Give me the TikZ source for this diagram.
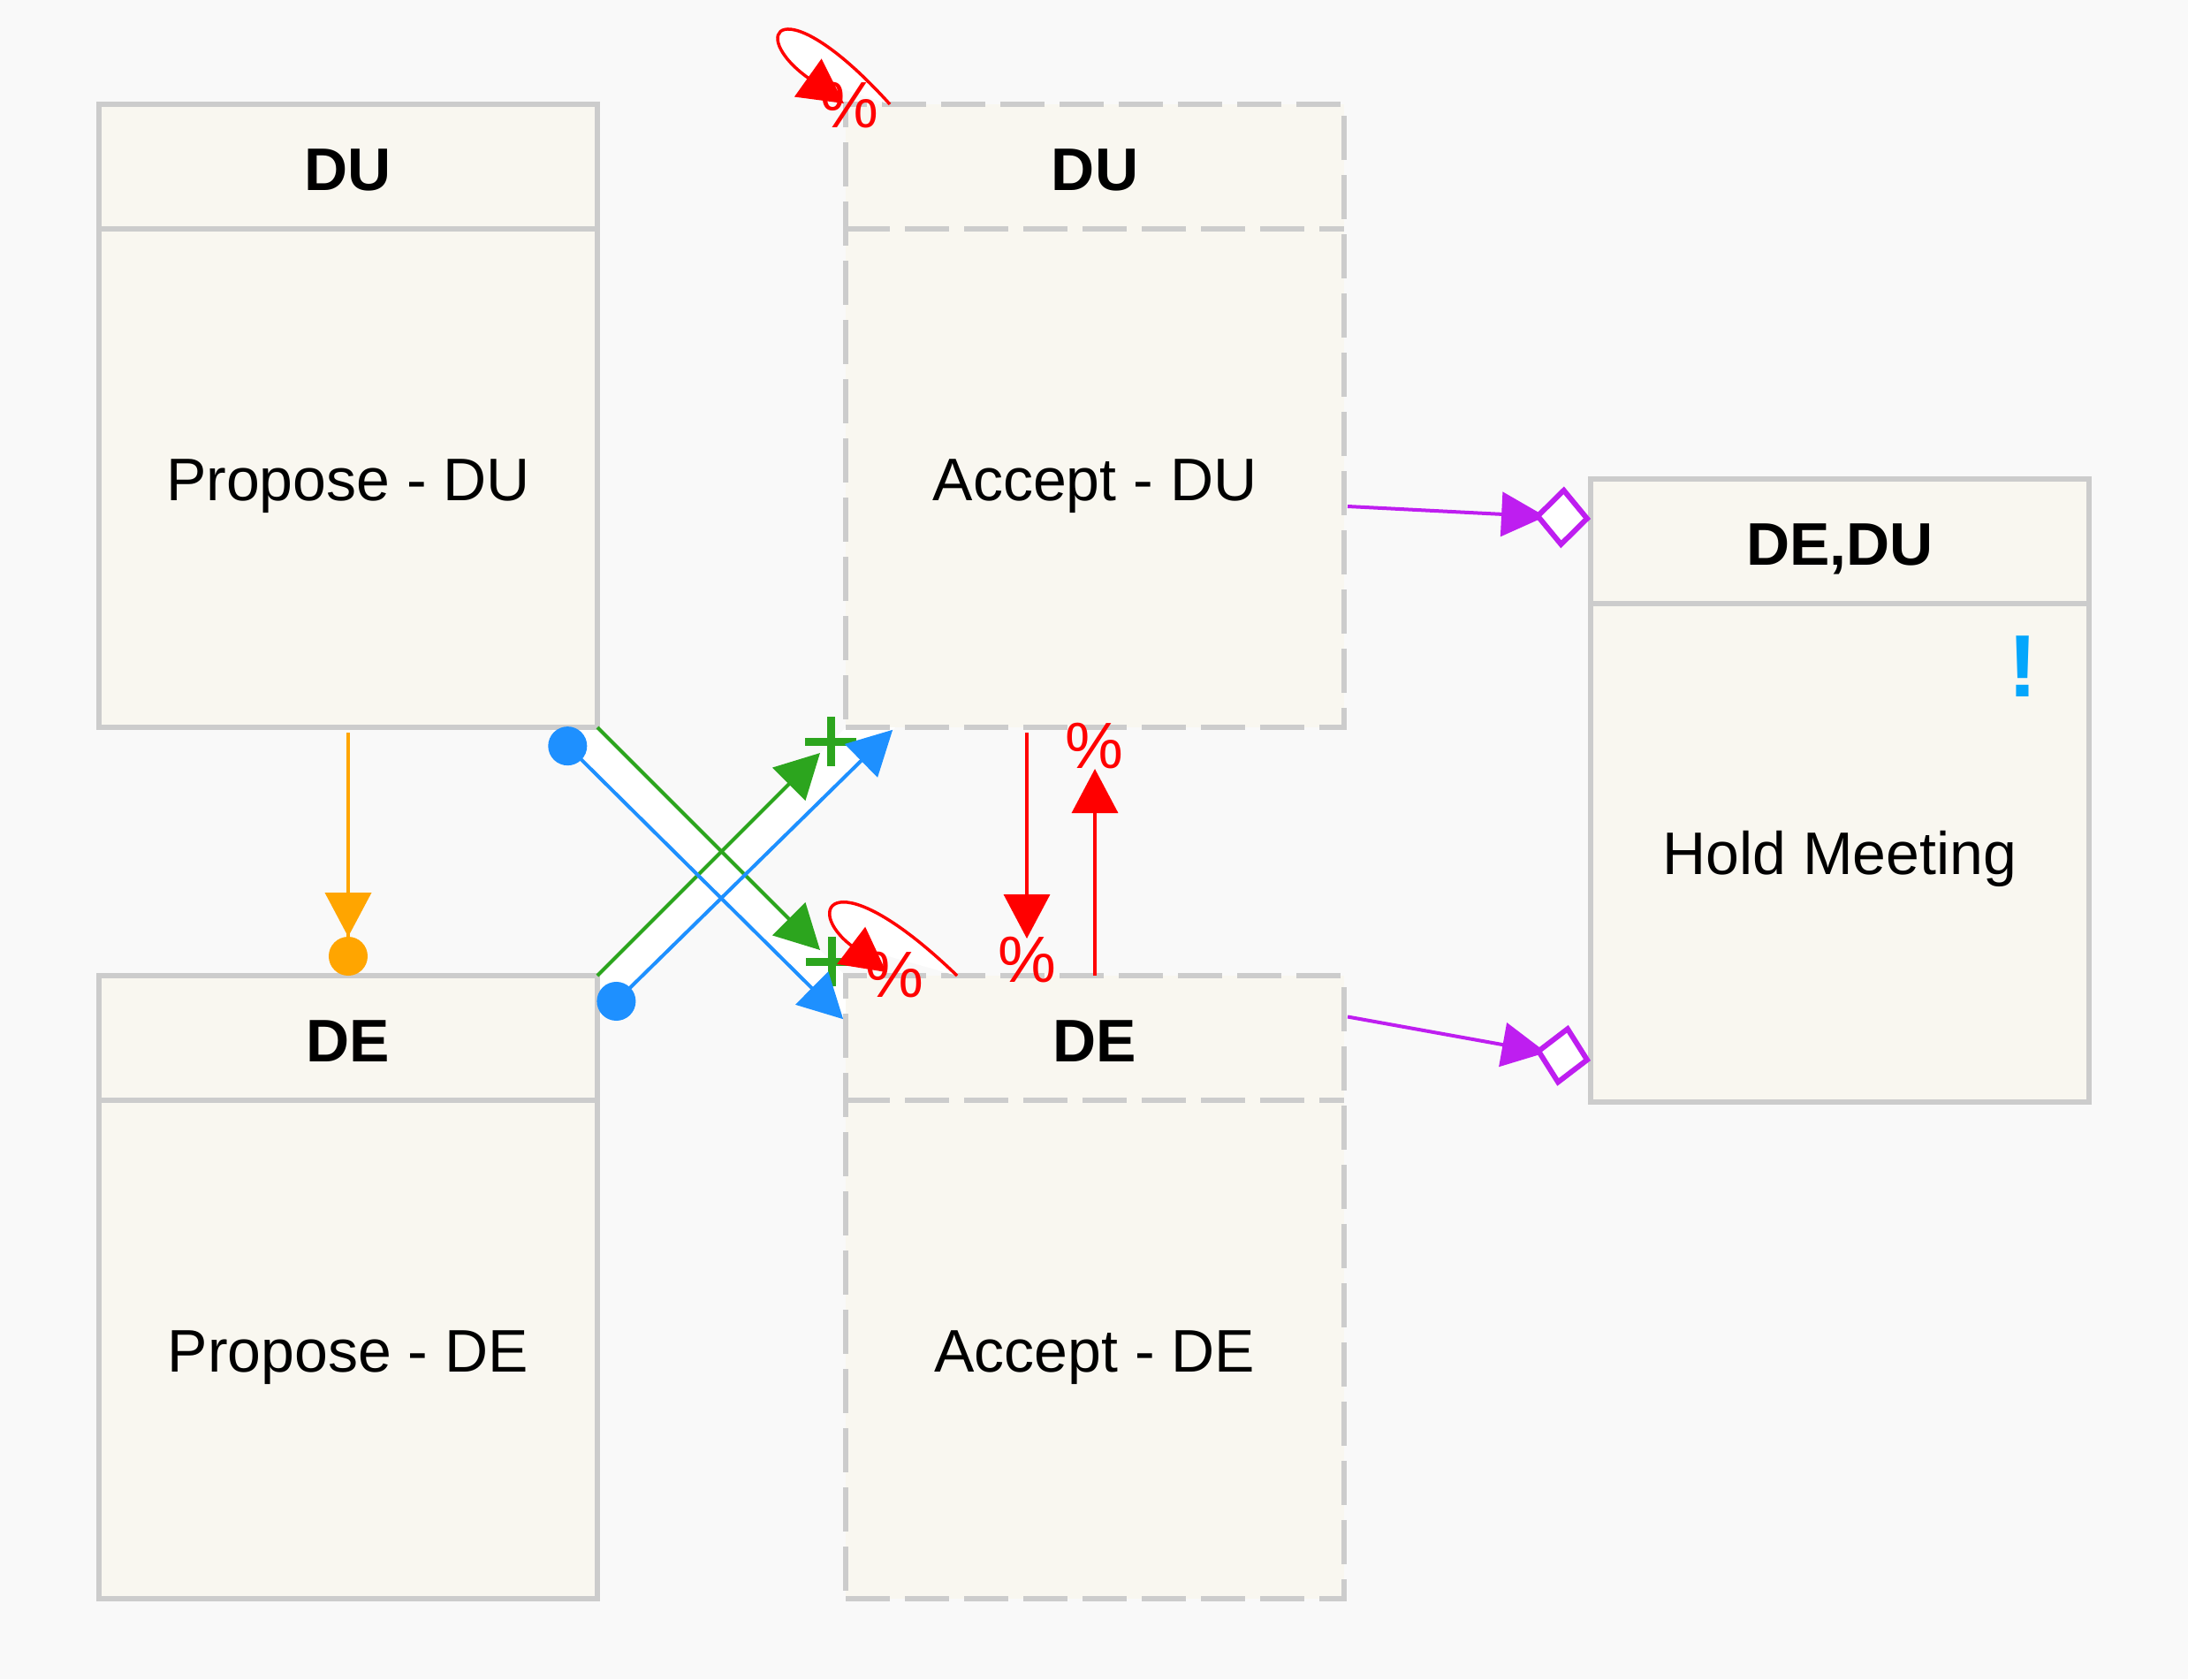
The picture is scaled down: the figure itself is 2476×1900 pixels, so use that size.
\documentclass[tikz,border=0pt]{standalone}
\usepackage{fontspec}
\setmainfont{Liberation Sans}
\usetikzlibrary{arrows.meta,calc}
\definecolor{bgc}{RGB}{249,249,249}
\definecolor{boxfill}{RGB}{249,247,240}
\definecolor{boxline}{RGB}{204,204,204}
\definecolor{cblue}{RGB}{30,144,255}
\definecolor{cgreen}{RGB}{44,165,30}
\definecolor{corange}{RGB}{255,165,0}
\definecolor{cred}{RGB}{255,0,0}
\definecolor{cpurple}{RGB}{190,30,240}
\definecolor{cexcl}{RGB}{4,166,252}
\tikzset{
  mytri/.tip={Triangle[length=25pt,width=26pt]},
  box/.style={draw=boxline, fill=boxfill, line width=2.75pt, minimum width=282pt,
    minimum height=352.5pt, outer sep=0pt, inner sep=0pt, anchor=north west},
  sepline/.style={draw=boxline, line width=2.75pt},
  hdrtext/.style={inner sep=0pt, text depth=0pt, font=\fontsize{34}{40}\selectfont\bfseries},
  bdytext/.style={inner sep=0pt, text depth=0pt, font=\fontsize{34}{40}\selectfont},
  dsh/.style={dash pattern=on 25pt off 8.5pt},
  pct/.style={text=cred, font=\fontsize{37}{40}\selectfont, inner sep=0pt},
  conn/.style={line width=2pt},
  redconn/.style={cred, line width=1.75pt},
  plusmark/.style={cgreen, line width=4.5pt},
  band/.style={fill=white, draw=none},
  purptip/.style={-{Triangle[length=25pt,width=25pt,sep=-6.5pt] Diamond[length=32pt,width=35pt,fill=white,line width=3pt]}}
}
\begin{document}
\begin{tikzpicture}[x=0.5pt,y=-0.5pt]
\useasboundingbox (0,0) rectangle (2476,1900);
\fill[bgc] (0,0) rectangle (2476,1900);

% white bands between parallel connectors
\fill[band] (676,823) -- (957,1104) -- (957,1156) -- (621,823) -- cycle;
\fill[band] (676,1104) -- (957,823) -- (1013,823) -- (676,1154) -- cycle;

% boxes
\node[box] (PDU) at (112,118) {};
\node[box,dsh] (ADU) at (957,118) {};
\node[box] (PDE) at (112,1104) {};
\node[box,dsh] (ADE) at (957,1104) {};
\node[box] (HM) at (1800,542) {};
\draw[sepline] ($(PDU.north west)+(0,141)$) -- ($(PDU.north east)+(0,141)$);
\draw[sepline,dsh] ($(ADU.north west)+(0,141)$) -- ($(ADU.north east)+(0,141)$);
\draw[sepline] ($(PDE.north west)+(0,141)$) -- ($(PDE.north east)+(0,141)$);
\draw[sepline,dsh] ($(ADE.north west)+(0,141)$) -- ($(ADE.north east)+(0,141)$);
\draw[sepline] ($(HM.north west)+(0,141)$) -- ($(HM.north east)+(0,141)$);

\node[hdrtext] (PDUt) at ($(PDU.north)+(0,74)$) {DU};
\node[bdytext] (PDUb) at ($(PDU.north)+(0,425)$) {Propose - DU};
\node[hdrtext] (ADUt) at ($(ADU.north)+(0,74)$) {DU};
\node[bdytext] (ADUb) at ($(ADU.north)+(0,425)$) {Accept - DU};
\node[hdrtext] (PDEt) at ($(PDE.north)+(0,74)$) {DE};
\node[bdytext] (PDEb) at ($(PDE.north)+(0,425)$) {Propose - DE};
\node[hdrtext] (ADEt) at ($(ADE.north)+(0,74)$) {DE};
\node[bdytext] (ADEb) at ($(ADE.north)+(0,425)$) {Accept - DE};
\node[hdrtext] (HMt) at ($(HM.north)+(0,74)$) {DE,DU};
\node[bdytext] (HMb) at ($(HM.north)+(0,423)$) {Hold Meeting};
\node[text=cexcl, font=\fontsize{50}{50}\selectfont\bfseries, inner sep=0pt] (excl) at (2289,754) {!};

% orange
\draw[corange, conn, -{Triangle[length=25pt,width=26pt] Circle[length=22pt]}, shorten <=3pt] (PDU.south) -- (PDE.north);

% green
\draw[cgreen, conn, -{mytri}, shorten >=20.5pt] (PDU.south east) -- (ADE.north west);
\coordinate (g1) at ($(ADE.north west)+(-16,-16)$);
\draw[plusmark] (g1) ++(-29,0) -- ++(58,0) (g1) ++(0,-28) -- ++(0,56);
\draw[cgreen, conn, -{mytri}, shorten >=20.5pt] (PDE.north east) -- (ADU.south west);
\coordinate (g2) at ($(ADU.south west)+(-17,16)$);
\draw[plusmark] (g2) ++(-29,0) -- ++(58,0) (g2) ++(0,-28) -- ++(0,56);

% blue
\coordinate (b1s) at ($(PDU.south east)+(-55,0)$);
\coordinate (b1e) at ($(ADE.north west)+(0,52)$);
\draw[cblue, conn, {Circle[length=22pt]}-{mytri}, shorten <=4pt, shorten >=2pt] (b1s) -- (b1e);
\coordinate (b2s) at ($(PDE.north east)+(0,50)$);
\coordinate (b2e) at ($(ADU.south west)+(56,0)$);
\draw[cblue, conn, {Circle[length=22pt]}-{mytri}, shorten <=4pt, shorten >=2pt] (b2s) -- (b2e);

% red straight
\draw[redconn, -{mytri}, shorten >=21pt, shorten <=3pt] ($(ADU.south)+(-77,0)$) -- ($(ADE.north)+(-77,0)$);
\node[pct] (pc1) at (1162,1086) {\%};
\draw[redconn, -{mytri}, shorten >=23.5pt] (ADE.north) -- (ADU.south);
\node[pct] (pc2) at (1238,844) {\%};

% red self loops
\coordinate (l1s) at ($(ADU.north west)+(50,0)$);
\coordinate (l1e) at ($(ADU.north west)+(-2,-1)$);
\draw[redconn, fill=white, -{mytri}] (l1s) .. controls (884,-18) and (844,38) .. (l1e);
\node[pct] (pc3) at (961,119) {\%};
\coordinate (l2s) at ($(ADE.north west)+(126,0)$);
\coordinate (l2e) at ($(ADE.north west)+(46,-4)$);
\draw[redconn, fill=white, -{mytri}] (l2s) .. controls (944,970) and (908,1028) .. (l2e);
\node[pct] (pc4) at (1012,1103) {\%};

% purple
\coordinate (p1s) at ($(ADU.south east)+(4,-250)$);
\coordinate (p1e) at ($(HM.north west)+(0,45)$);
\draw[cpurple, conn, purptip] (p1s) -- (p1e);
\coordinate (p2s) at ($(ADE.north east)+(4,46.5)$);
\coordinate (p2e) at ($(HM.south west)+(0,-47)$);
\draw[cpurple, conn, purptip] (p2s) -- (p2e);
\end{tikzpicture}
\end{document}
